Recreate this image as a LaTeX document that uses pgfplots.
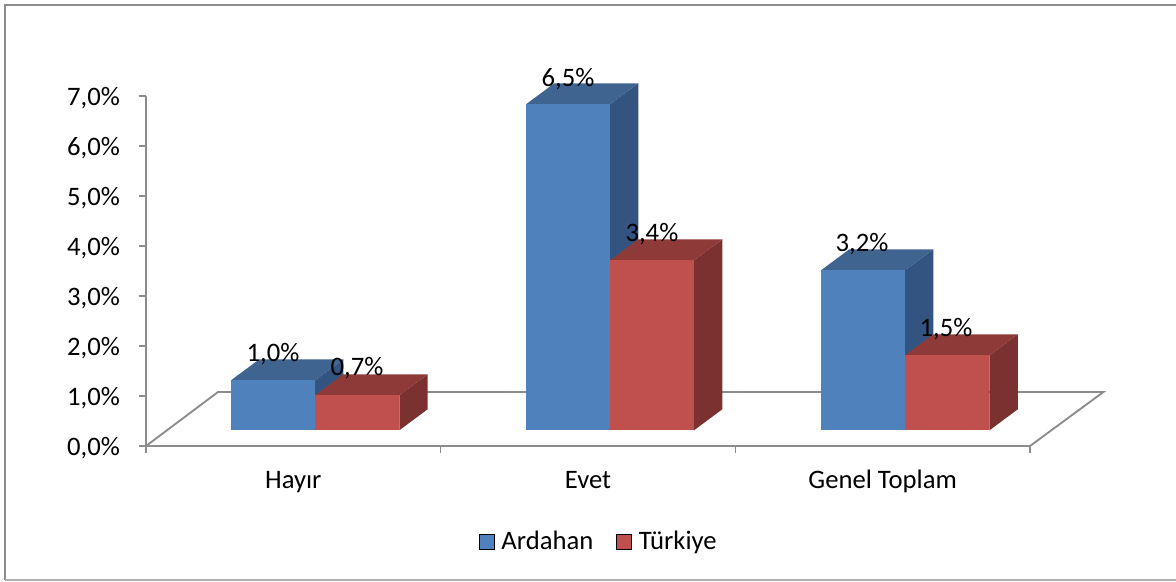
\documentclass[border=0pt]{standalone}
\usepackage{pgfplots}
\pgfplotsset{compat=1.18}
\usepackage{fontspec}
\setmainfont{Carlito}
\definecolor{ardF}{HTML}{4F81BD}
\definecolor{ardT}{HTML}{3F6490}
\definecolor{ardS}{HTML}{335480}
\definecolor{turF}{HTML}{C0504D}
\definecolor{turT}{HTML}{8E3A38}
\definecolor{turS}{HTML}{7B3130}
\definecolor{axc}{HTML}{8C8C8C}
\newcommand{\threedbar}[4]{% x0, x1, value, colour prefix
  \pgfmathsetmacro{\ytop}{#3+0.314}
  \pgfmathsetmacro{\ybk}{#3+0.734}
  \pgfmathsetmacro{\xa}{#1+0.096}
  \pgfmathsetmacro{\xb}{#2+0.096}
  \edef\doit{%
  \noexpand\addplot[draw=none,fill=#4S,forget plot] coordinates {(#2,0.314) (\xb,0.734) (\xb,\ybk) (#2,\ytop)} -- cycle;
  \noexpand\addplot[draw=none,fill=#4T,forget plot] coordinates {(#1,\ytop) (\xa,\ybk) (\xb,\ybk) (#2,\ytop)} -- cycle;
  \noexpand\addplot[draw=none,fill=#4F,forget plot] coordinates {(#1,0.314) (#2,0.314) (#2,\ytop) (#1,\ytop)} -- cycle;
  }\doit
}
\newcommand{\lab}[3]{\node[anchor=base,font=\fontsize{20}{22}\selectfont,inner sep=0pt] at (axis cs:#1,#2) {#3};}
\begin{document}
\begin{tikzpicture}
\useasboundingbox (0,0) rectangle (882pt,-435.75pt);
\fill[white] (0,0) rectangle (882pt,-435.75pt);
\draw[color=axc,line width=1.4pt] (3.75pt,-435pt) -- (3.75pt,-3.75pt) -- (882pt,-3.75pt);
\draw[color=axc!70,line width=1.1pt] (3.75pt,-435pt) -- (882pt,-435pt);
\begin{axis}[
  at={(109.5pt,-334.5pt)}, anchor=origin,
  scale only axis, width=663pt, height=262.5pt,
  xmin=0,xmax=3,ymin=0,ymax=7,
  clip=false,
  axis x line*=bottom, axis y line*=left,
  axis line style={draw=axc,line width=1.4pt,-},
  tick align=outside,
  major tick length=5.5pt, minor tick length=5.5pt,
  xtick={0.5,1.5,2.5},
  xticklabels={Hayır,Evet,Genel Toplam},
  minor xtick={0,1,2,3},
  major x tick style={draw=none},
  minor x tick style={draw=axc,line width=1.2pt},
  y tick style={draw=axc,line width=1.2pt},
  ytick={0,1,2,3,4,5,6,7},
  yticklabel={\pgfmathprintnumber{\tick}\%},
  /pgf/number format/.cd,fixed,fixed zerofill,precision=1,use comma,assume math mode=true,
  /pgfplots/.cd,
  tick label style={font=\fontsize{20}{22}\selectfont,text=black},
  x tick label style={yshift=-8.5pt,text height=14pt,text depth=4pt},
  y tick label style={xshift=-10.5pt,yshift=-1.5pt},
  legend style={draw=none,fill=none,at={(axis cs:1.5373,-1.91)},anchor=center,legend columns=2,font=\fontsize{20}{22}\selectfont,
    /tikz/column 1/.style={column sep=3.5pt},
    /tikz/column 2/.style={column sep=15pt},
    /tikz/column 3/.style={column sep=3.5pt}},
  legend image code/.code={\fill[#1] (0,-5.6pt) rectangle (11.2pt,5.6pt);},
]
\addplot[color=axc,line width=1.4pt,forget plot] coordinates {(0,0) (0.2443,1.08) (3.249,1.08) (3,0)};
\addlegendimage{fill=ardF}
\addlegendentry{Ardahan}
\addlegendimage{fill=turF}
\addlegendentry{Türkiye}
\threedbar{0.2885}{0.5735}{1.00}{ard}
\threedbar{0.5735}{0.8596}{0.70}{tur}
\threedbar{1.2896}{1.5746}{6.52}{ard}
\threedbar{1.5746}{1.8597}{3.40}{tur}
\threedbar{2.2907}{2.5758}{3.20}{ard}
\threedbar{2.5758}{2.8625}{1.50}{tur}
\lab{0.4310}{1.70}{1,0\%}
\lab{0.7162}{1.41}{0,7\%}
\lab{1.4320}{7.20}{6,5\%}
\lab{1.7169}{4.10}{3,4\%}
\lab{2.4300}{3.90}{3,2\%}
\lab{2.7150}{2.20}{1,5\%}
\end{axis}
\end{tikzpicture}
\end{document}
